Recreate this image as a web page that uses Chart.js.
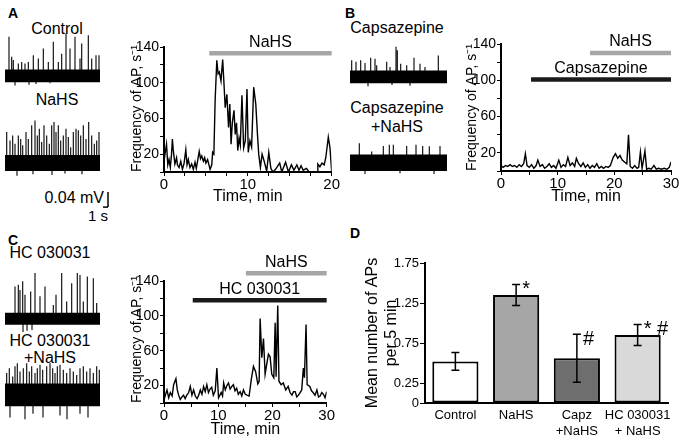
<!DOCTYPE html>
<html><head><meta charset="utf-8">
<script src="https://cdn.jsdelivr.net/npm/chart.js@4/dist/chart.umd.min.js"></script>
<style>
body{margin:0;background:#fff;}
#wrap{position:relative;width:685px;height:440px;overflow:hidden;background:#fff;font-family:"Liberation Sans",Arial,sans-serif;color:#000;}
canvas{position:absolute;}
.t{position:absolute;transform:translate(-50%,-50%);white-space:nowrap;font-size:16px;line-height:1;}
.r{transform:translate(-100%,-50%);}
.L{font-weight:bold;font-size:14px;}
</style></head><body><div id="wrap">
<div class="t L" style="left:13px;top:13px">A</div>
<div class="t" style="left:57px;top:29px">Control</div>
<div class="t" style="left:57px;top:100px">NaHS</div>
<div class="t r" style="left:104px;top:198px">0.04 mV</div>
<div class="t" style="left:98px;top:215px;font-size:15px">1 s</div>
<div class="t L" style="left:350px;top:13px">B</div>
<div class="t" style="left:397px;top:28px">Capsazepine</div>
<div class="t" style="left:397px;top:108px">Capsazepine</div>
<div class="t" style="left:397px;top:127px">+NaHS</div>
<div class="t L" style="left:13px;top:240px">C</div>
<div class="t" style="left:50px;top:253px">HC 030031</div>
<div class="t" style="left:50px;top:341px">HC 030031</div>
<div class="t" style="left:50px;top:358px">+NaHS</div>
<div class="t L" style="left:355px;top:233px">D</div>
</div>
<script>
// ---------- DATA ----------
// Panel A: frequency of AP (s^-1) vs time (min)
const timeA=[0,0.15,0.3,0.45,0.6,0.75,0.9,1.0,1.1,1.3,1.5,1.6,1.8,2.0,2.2,2.4,2.6,2.75,2.9,3.1,3.3,3.5,3.7,3.85,4.0,4.2,4.35,4.5,4.7,4.85,5.0,5.2,5.5,5.7,5.8,5.95,6.1,6.3,6.45,6.6,6.8,7.0,7.15,7.3,7.5,7.7,7.85,8.0,8.15,8.35,8.5,8.65,8.8,8.95,9.1,9.3,9.5,9.7,9.9,10.05,10.25,10.45,10.7,10.95,11.15,11.3,11.5,11.7,11.95,12.25,12.5,12.75,13.0,13.3,13.8,14.05,14.5,14.85,15.2,15.5,15.85,16.1,16.35,16.6,17.0,17.3,17.7,18.3,18.35,18.6,18.85,19.1,19.3,19.6,19.8,20.0];
const freqA=[12,22,31,8,14,5,20,37,25,9,16,8,5,12,3,10,25,8,14,5,9,3,11,4,12,23,15,18,12,16,10,14,3,8,22,20,80,125,110,112,102,126,100,72,87,50,76,31,55,69,42,55,24,38,30,86,27,35,93,22,35,28,95,76,42,20,5,20,12,1,22,4,0,3,10,0,11,0,8,2,8,2,7,2,4,0,0,0,9,6,10,8,16,39,27,1];
// Panel B
const timeB=[0,0.4,0.8,1.2,1.6,2.0,2.4,2.8,3.2,3.6,4.0,4.3,4.6,5.0,5.4,5.8,6.2,6.5,6.9,7.3,7.7,8.1,8.5,8.9,9.3,9.7,10.2,10.6,11.0,11.4,11.8,12.2,12.6,13.0,13.3,13.7,14.1,14.5,14.9,15.3,15.7,16.1,16.5,16.9,17.3,17.7,18.1,18.5,18.9,19.3,19.8,20.2,20.6,21.0,21.4,21.8,22.2,22.5,22.8,23.2,23.6,24.0,24.3,24.6,24.9,25.4,25.7,26.1,26.5,27.0,27.4,27.8,28.3,28.8,29.3,29.7,30];
const freqB=[6,4,6,5,7,5,6,4,7,5,8,19,6,4,7,3,6,12,5,7,3,5,8,4,6,3,12,4,7,5,15,6,9,5,14,8,5,9,4,7,3,6,4,8,3,5,3,5,4,6,15,19,14,17,12,10,8,40,5,3,6,3,4,21,3,22,2,3,2,6,2,3,2,3,2,4,10];
// Panel C
const timeC=[0,0.25,0.55,0.86,1.17,1.5,1.78,2.2,2.45,2.7,3.0,3.3,3.6,3.9,4.2,4.55,4.85,5.15,5.46,5.77,6.1,6.4,6.7,7.0,7.3,7.6,7.9,8.2,8.5,8.8,9.1,9.45,9.75,10.06,10.3,10.55,10.8,11.0,11.3,11.6,11.9,12.2,12.5,12.8,13.1,13.4,13.7,14.05,14.35,14.65,15.0,15.3,15.7,16.1,16.5,16.9,17.3,17.55,17.73,18.04,18.35,18.65,18.96,19.26,19.57,19.88,20.25,20.5,20.67,20.98,21.2,21.6,22.0,22.45,22.9,23.25,23.6,23.9,24.2,24.5,24.8,25.1,25.4,25.7,25.9,26.2,26.4,26.9,27.2,27.5,27.85,28.2,28.5,28.8,29.1,29.4,29.7,30];
const freqC=[3,9,15,6,12,8,21,28,15,9,4,7,9,5,9,12,19,9,15,8,5,9,15,10,19,13,21,12,16,18,9,14,40,6,9,12,8,23,15,20,23,16,19,21,14,17,10,13,8,15,10,9,8,27,42,36,22,25,97,52,74,33,45,56,53,33,29,92,30,112,25,21,23,15,19,12,9,13,13,7,9,12,15,40,29,90,21,19,14,12,9,15,7,8,12,10,6,13];
const freqTickLabels=[20,60,100,140];
const timeTickLabels=[0,10,20,30];
// treatment periods (min) and drawing level (s^-1)
const treatA=[{label:'NaHS',start:5.4,end:20,level:133,color:'#a6a6a6'}];
const treatB=[{label:'NaHS',start:15.7,end:30,level:130,color:'#a6a6a6'},{label:'Capsazepine',start:5.3,end:30,level:101,color:'#1a1a1a'}];
const treatC=[{label:'NaHS',start:15.1,end:30,level:149,color:'#a6a6a6'},{label:'HC 030031',start:5.3,end:30,level:118,color:'#1a1a1a'}];
// Raw traces: spike positions along sweep and amplitudes (mV)
const ctrlSpikeT=[4,6.7,8.3,13.3,16.7,20,23.3,28.3,33.3,38.3,43.3,48.3,53.3,56.7,61,65,70,75,76.7,83.3,86.7,91,94,10,24,31,45];
const ctrlSpikeA=[0.104,0.051,0.042,0.033,0.037,0.033,0.037,0.055,0.046,0.073,0.037,0.091,0.037,0.059,0.113,0.073,0.104,0.046,0.086,0.108,0.046,0.055,0.055,-0.026,-0.024,-0.022,-0.02];
const nahsSpikeT=[1.7,5,7.7,10,13.3,15.7,17.7,21,23.3,26.7,30,32.3,34.3,36.7,39,41.7,44.3,46.7,49,51,53.3,55.7,58.3,61,63.3,65.7,68.3,71,73.3,75.7,78.3,81,83.7,86.7,89.3,91.7,94,12,28,47,60,77];
const nahsSpikeA=[0.082,0.060,0.073,0.051,0.073,0.064,0.047,0.082,0.064,0.100,0.113,0.073,0.091,0.056,0.100,0.073,0.051,0.100,0.109,0.082,0.100,0.060,0.073,0.091,0.069,0.042,0.082,0.091,0.087,0.073,0.100,0.064,0.109,0.073,0.051,0.060,0.082,-0.034,-0.03,-0.032,-0.028,-0.03];
const capzSpikeT=[1.7,6,10.7,15,20.7,25,26.7,36.7,40,46,47.3,50.7,56.7,64,70,75,88.3,18,42,60];
const capzSpikeA=[0.044,0.040,0.044,0.037,0.051,0.048,0.031,0.040,0.026,0.080,0.071,0.035,0.031,0.051,0.035,0.026,0.057,-0.025,-0.022,-0.024];
const capzNahsSpikeT=[9.3,21.7,33.3,39.3,43.3,56.7,66,72.7,79.3,90,15,50,84];
const capzNahsSpikeA=[0.052,0.030,0.045,0.048,0.048,0.045,0.048,0.045,0.044,0.045,-0.03,-0.028,-0.03];
const hcSpikeT=[10,13.3,15,17.7,20,25.7,30,35,40,48.3,51,56.7,61.7,66.7,72.3,75,78.3,82.3,88.3,91.7,18,22,27];
const hcSpikeA=[0.086,0.091,0.077,0.1,0.064,0.073,0.122,0.06,0.086,0.037,0.064,0.122,0.046,0.095,0.122,0.117,0.046,0.113,0.108,0.042,-0.035,-0.032,-0.03];
const hcNahsSpikeT=[1.7,4.3,7.7,10,12.3,15,18.3,21.7,24.3,26.7,30,32.3,35,37.7,41.7,45,47.7,50,52.3,55,58.3,61.7,65,68.3,71.7,75,78.3,81.7,85,88.3,91.7,94.3,5,20,28,38,55,62,75,83];
const hcNahsSpikeA=[0.058,0.071,0.049,0.076,0.084,0.062,0.071,0.084,0.062,0.076,0.058,0.071,0.080,0.067,0.076,0.084,0.071,0.058,0.076,0.080,0.067,0.058,0.071,0.062,0.053,0.071,0.076,0.062,0.071,0.058,0.076,0.067,-0.06,-0.065,-0.05,-0.06,-0.055,-0.065,-0.05,-0.06];
const scaleBarMv=0.04;
// Panel D
const barLabels=['Control','NaHS',['Capz','+NaHS'],['HC 030031','+ NaHS']];
const barMeans=[0.52,1.35,0.56,0.85];
const barErrors=[0.11,0.13,0.30,0.13];
const barMarks=['','*','#','* #'];
const barTicksD=[0,0.25,0.75,1.25,1.75];

// ---------- DRAWING ----------
const FONT='"Liberation Sans", Arial, sans-serif';
Chart.defaults.font.family=FONT;
Chart.defaults.color='#000';
const wrap=document.getElementById('wrap');
function mk(x,y,w,h){const c=document.createElement('canvas');c.width=w;c.height=h;c.style.left=x+'px';c.style.top=y+'px';c.style.width=w+'px';c.style.height=h+'px';wrap.appendChild(c);return c;}
const base={responsive:false,animation:false,devicePixelRatio:1,plugins:{legend:{display:false},tooltip:{enabled:false}}};

const PX_PER_MV=375;
function trace(cfg,spT,spA,noise,extra){
  const h=Math.round((cfg.yMax-cfg.yMin)*PX_PER_MV);
  const c=mk(cfg.left,Math.round(cfg.center-cfg.yMax*PX_PER_MV),cfg.width,h);
  const spikePts=[];
  spT.forEach((t,i)=>{spikePts.push({x:t,y:0},{x:t,y:spA[i]},{x:t,y:null});});
  const ds=[
    {data:[{x:0,y:noise},{x:cfg.len,y:noise}],borderWidth:0,pointRadius:0,fill:'+1',backgroundColor:'#000',borderColor:'#000'},
    {data:[{x:0,y:-noise},{x:cfg.len,y:-noise}],borderWidth:0,pointRadius:0,fill:false,borderColor:'#000'},
    {data:spikePts,borderColor:'#000',borderWidth:1.1,pointRadius:0,spanGaps:false,fill:false,tension:0}
  ];
  if(extra) extra.forEach(e=>ds.push(e));
  new Chart(c,{type:'line',data:{datasets:ds},options:Object.assign({},base,{layout:{padding:0},
    scales:{x:{type:'linear',display:false,min:0,max:cfg.width},y:{type:'linear',display:false,min:cfg.yMin,max:cfg.yMax}}})});
}
const LEN=95;
trace({left:5,center:76,width:96,len:LEN,yMin:-0.07,yMax:0.13},ctrlSpikeT,ctrlSpikeA,0.017);
const sbBottom=-0.117, sbX=103;
trace({left:5,center:162.5,width:108,len:LEN,yMin:-0.13,yMax:0.13},nahsSpikeT,nahsSpikeA,0.021,[
  {data:[{x:sbX,y:sbBottom},{x:sbX,y:sbBottom+scaleBarMv}],borderColor:'#000',borderWidth:1.5,pointRadius:0,fill:false},
  {data:[{x:sbX-5,y:sbBottom},{x:sbX,y:sbBottom}],borderColor:'#000',borderWidth:1.5,pointRadius:0,fill:false}
]);
trace({left:350,center:76.5,width:98,len:97,yMin:-0.07,yMax:0.13},capzSpikeT,capzSpikeA,0.017);
trace({left:350,center:163,width:98,len:97,yMin:-0.07,yMax:0.13},capzNahsSpikeT,capzNahsSpikeA,0.022);
trace({left:5,center:319,width:96,len:LEN,yMin:-0.07,yMax:0.13},hcSpikeT,hcSpikeA,0.016);
trace({left:5,center:395,width:96,len:LEN,yMin:-0.08,yMax:0.13},hcNahsSpikeT,hcNahsSpikeA,0.03);

const treatLabelPlugin={id:'tl',afterDatasetsDraw(chart){const {ctx,scales:{x,y}}=chart;ctx.save();ctx.font='16px '+FONT;ctx.fillStyle='#000';ctx.textAlign='center';ctx.textBaseline='middle';
  chart.data.datasets.forEach(d=>{if(!d.tlabel)return;const p0=d.data[0],p1=d.data[1];ctx.fillText(d.tlabel,(x.getPixelForValue(p0.x)+x.getPixelForValue(p1.x))/2,y.getPixelForValue(p0.y)-11);});ctx.restore();}};

function freqChart(box,times,freqs,xMax,xStep,treat){
  const c=mk(box.left,box.top,box.w,box.h);
  const ds=[{data:times.map((t,i)=>({x:t,y:freqs[i]})),borderColor:'#000',borderWidth:1.4,pointRadius:0,tension:0,fill:false}];
  treat.forEach(tr=>ds.push({data:[{x:tr.start,y:tr.level},{x:tr.end,y:tr.level}],borderColor:tr.color,borderWidth:4.5,pointRadius:0,clip:false,borderCapStyle:'butt',fill:false,tlabel:tr.label}));
  new Chart(c,{type:'line',data:{datasets:ds},plugins:[treatLabelPlugin],options:Object.assign({},base,{
    layout:{padding:{top:box.pt,right:box.pr,left:0,bottom:0}},
    scales:{
      x:{type:'linear',min:0,max:xMax,afterFit:s=>{s.height=box.xh;},
        ticks:{stepSize:xStep,autoSkip:false,maxRotation:0,padding:0,font:{size:15},color:'#000',callback:v=>timeTickLabels.includes(v)?String(v):''},
        grid:{drawOnChartArea:false,drawTicks:true,tickLength:4,color:'#000',lineWidth:1},
        border:{display:true,color:'#000',width:2},
        title:{display:true,text:'Time, min',font:{size:16},color:'#000',padding:{top:0,bottom:1}}},
      y:{min:0,max:140,afterFit:s=>{s.width=box.yw;},
        ticks:{stepSize:20,autoSkip:false,padding:1,font:{size:14},color:'#000',callback:v=>freqTickLabels.includes(v)?String(v):''},
        grid:{drawOnChartArea:false,drawTicks:true,tickLength:4,color:'#000',lineWidth:1},
        border:{display:true,color:'#000',width:2},
        title:{display:true,text:'Frequency of AP, s\u207B\u00B9',align:'start',font:{size:14},color:'#000',padding:{top:4,bottom:0}}}
    }})});
}
freqChart({left:125,top:30,w:215,h:177,yw:39,xh:35,pt:17,pr:8},timeA,freqA,20,2.5,treatA);
freqChart({left:460,top:28,w:225,h:179,yw:41,xh:36,pt:16,pr:14},timeB,freqB,30,5,treatB);
freqChart({left:125,top:250,w:210,h:190,yw:39,xh:37,pt:31,pr:8},timeC,freqC,30,5,treatC);

// Panel D
const errPlugin={id:'err',afterDatasetsDraw(chart){const {ctx,scales:{x,y}}=chart;ctx.save();ctx.strokeStyle='#000';ctx.lineWidth=1.5;
  barMeans.forEach((m,i)=>{const cx=x.getPixelForValue(i);const top=y.getPixelForValue(m+barErrors[i]);const bot=y.getPixelForValue(m-barErrors[i]);
    ctx.beginPath();ctx.moveTo(cx,top);ctx.lineTo(cx,bot);ctx.moveTo(cx-4,top);ctx.lineTo(cx+4,top);ctx.moveTo(cx-4,bot);ctx.lineTo(cx+4,bot);ctx.stroke();
    if(barMarks[i]){ctx.font='20px '+FONT;ctx.fillStyle='#000';ctx.textAlign='left';ctx.textBaseline='middle';ctx.fillText(barMarks[i],cx+6,top+5);}
  });ctx.restore();}};
const cD=mk(360,240,325,200);
new Chart(cD,{type:'bar',data:{labels:barLabels,datasets:[{data:barMeans,backgroundColor:['#ffffff','#a6a6a6','#6e6e6e','#d9d9d9'],borderColor:'#000',borderWidth:2,borderSkipped:false,barPercentage:0.76,categoryPercentage:1}]},
  plugins:[errPlugin],
  options:Object.assign({},base,{layout:{padding:{top:23,right:17,left:0,bottom:0}},
    scales:{
      x:{afterFit:s=>{s.height=37;},grid:{drawOnChartArea:false,drawTicks:false,color:'#000'},border:{display:true,color:'#000',width:2},
        ticks:{autoSkip:false,maxRotation:0,padding:5,font:{size:13},color:'#000'}},
      y:{min:0,max:1.75,afterFit:s=>{s.width=65;},afterBuildTicks:s=>{s.ticks=barTicksD.map(v=>({value:v}));},
        ticks:{padding:1,font:{size:13},color:'#000',callback:v=>String(v)},
        grid:{drawOnChartArea:false,drawTicks:true,tickLength:5,color:'#000'},border:{display:true,color:'#000',width:2},
        title:{display:true,text:['Mean number of APs','per 5 min'],font:{size:16},color:'#000',padding:{top:3,bottom:0}}}
    }})});
</script></body></html>
